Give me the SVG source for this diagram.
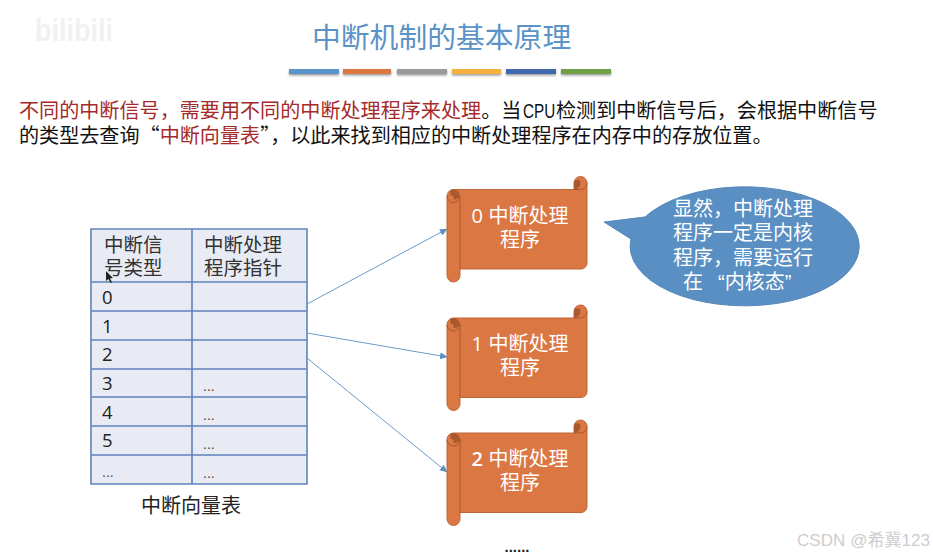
<svg xmlns="http://www.w3.org/2000/svg" width="933" height="556" viewBox="0 0 933 556">
<defs>
<filter id="sh" x="-10%" y="-50%" width="120%" height="250%"><feDropShadow dx="0" dy="1.500" stdDeviation="1" flood-color="#000" flood-opacity=".4"/></filter>
<marker id="arr" markerWidth="8" markerHeight="8" refX="7" refY="3.500" orient="auto" markerUnits="userSpaceOnUse"><path d="M0 0L7.500 3.500L0 7z" fill="#5b8fc4"/></marker>
<g id="scroll">
<path class="sb" d="M447 196a6.500 6.500 0 0 1 6.500-6.500H574V183a6.500 6.500 0 0 1 13 0v80a6 6 0 0 1-6 6H460v6.500a6.500 6.500 0 0 1-13 0z"/>
<path class="sd" d="M574 189.500a6.500 6.500 0 0 0 6.500-6.500a3 3 0 0 0-6.500 0zM453.500 196a3 3 0 0 1 0-6.500a6.500 6.500 0 0 1 6.500 6.500a6.500 6.500 0 0 1-6.500 3.500z"/>
<path class="sl" d="M460 196V269M447 196a6.500 6.500 0 0 0 13 0M574 189.500h6.500a6.500 6.500 0 0 0 6.500-6.500"/>
</g>
</defs>
<style>
text{font-family:"Liberation Sans","Noto Sans CJK SC",sans-serif}
.q{font-family:"Noto Sans CJK SC",sans-serif}
.t{font-size:20.100px;fill:#111}
.red{fill:#a52a2a}
.c{font-size:19.500px;fill:#333}
.n{font-size:18.500px;fill:#222;font-family:"Open Sans",sans-serif}
.d{font-size:14px;fill:#444}
.w{font-size:20px;fill:#fff;text-anchor:middle}
.sb{fill:#db7743;stroke:#c0673a;stroke-width:1}
.sd{fill:#a9592f}
.sl{fill:none;stroke:#a9592f;stroke-width:1}
.grid{stroke:#5f83b9;stroke-width:1.600;fill:none}
.conn{stroke:#6c9bc9;stroke-width:1;fill:none;marker-end:url(#arr)}
</style>
<rect width="933" height="556" fill="#fff"/>
<g id="watermark">
<text x="35" y="41" font-size="32" font-weight="bold" fill="#f1f1f1" textLength="78" lengthAdjust="spacingAndGlyphs">bilibili</text>
<text x="797" y="546" font-size="17" fill="#cdcdcd" textLength="133">CSDN @希冀123</text>
</g>
<g id="title">
<text x="312" y="48" font-size="28.800" fill="#5b93c7">中断机制的基本原理</text>
<g filter="url(#sh)">
<rect x="289" y="69" width="50" height="5" fill="#5a93c9"/>
<rect x="343" y="69" width="48" height="5" fill="#db7743"/>
<rect x="397" y="69" width="50" height="5" fill="#9a9a9a"/>
<rect x="452" y="69" width="49" height="5" fill="#f4b13f"/>
<rect x="506" y="69" width="50" height="5" fill="#3f68ad"/>
<rect x="561" y="69" width="50" height="5" fill="#70a044"/>
</g>
</g>
<g id="intro">
<text class="t" x="19" y="118"><tspan class="red">不同的中断信号，需要用不同的中断处理程序来处理</tspan>。当</text>
<text class="t" transform="translate(523 118) scale(.76 1)">CPU</text>
<text class="t" x="556" y="118">检测到中断信号后，会根据中断信号</text>
<text class="t" x="19" y="143">的类型去查询<tspan class="q">“</tspan><tspan class="red">中断向量表</tspan><tspan class="q">”</tspan>，以此来找到相应的中断处理程序在内存中的存放位置。</text>
</g>
<g id="table">
<rect x="91" y="229" width="216" height="255" fill="#e8ebf4"/>
<path class="grid" d="M91 229H307V484H91zM192 229V484M91 282H307M91 311H307M91 340H307M91 369H307M91 397H307M91 426H307M91 455H307"/>
<text class="c" x="104" y="252">中断信</text>
<text class="c" x="104" y="275">号类型</text>
<text class="c" x="204" y="252">中断处理</text>
<text class="c" x="204" y="275">程序指针</text>
<text class="n" x="102" y="304">0</text>
<text class="n" x="102" y="333">1</text>
<text class="n" x="102" y="361">2</text>
<text class="n" x="102" y="390">3</text>
<text class="n" x="102" y="419">4</text>
<text class="n" x="102" y="447">5</text>
<text class="d" x="102" y="477">...</text>
<text class="d" x="203" y="391">...</text>
<text class="d" x="203" y="420">...</text>
<text class="d" x="203" y="449">...</text>
<text class="d" x="203" y="478">...</text>
<path d="M106 271l0 10 2.500-2 2 4 1.500-.8-2-3.700 3-.5z" fill="#222"/>
</g>
<text id="table-label" x="191" y="513" font-size="20" fill="#222" text-anchor="middle">中断向量表</text>
<g id="connectors">
<path class="conn" d="M307 304L447 229"/>
<path class="conn" d="M307 333L447 357"/>
<path class="conn" d="M307 358L447 472"/>
</g>
<g id="handler-0">
<use href="#scroll"/>
<text class="w" x="520" y="223"><tspan font-family="Open Sans">0</tspan> 中断处理</text>
<text class="w" x="520" y="247">程序</text>
</g>
<g id="handler-1">
<use href="#scroll" y="128.500"/>
<text class="w" x="520" y="351"><tspan font-family="Open Sans">1</tspan> 中断处理</text>
<text class="w" x="520" y="375">程序</text>
</g>
<g id="handler-2">
<use href="#scroll" y="243.500"/>
<text class="w" x="520" y="466"><tspan font-family="Open Sans" font-weight="600">2</tspan> 中断处理</text>
<text class="w" x="520" y="490">程序</text>
</g>
<g id="bubble">
<path d="M604 222L645 217A114.500 59.500 0 1 1 631 239z" fill="#5a8fc3" stroke="#5587b9"/>
<text class="w" x="743" y="216">显然，中断处理</text>
<text class="w" x="743" y="240">程序一定是内核</text>
<text class="w" x="743" y="265">程序，需要运行</text>
<text class="w" x="683" y="289" style="text-anchor:start">在<tspan dx="15">“</tspan>内核态”</text>
</g>
<text id="more" x="517" y="552" font-size="15" font-weight="bold" fill="#222" text-anchor="middle">......</text>
</svg>
